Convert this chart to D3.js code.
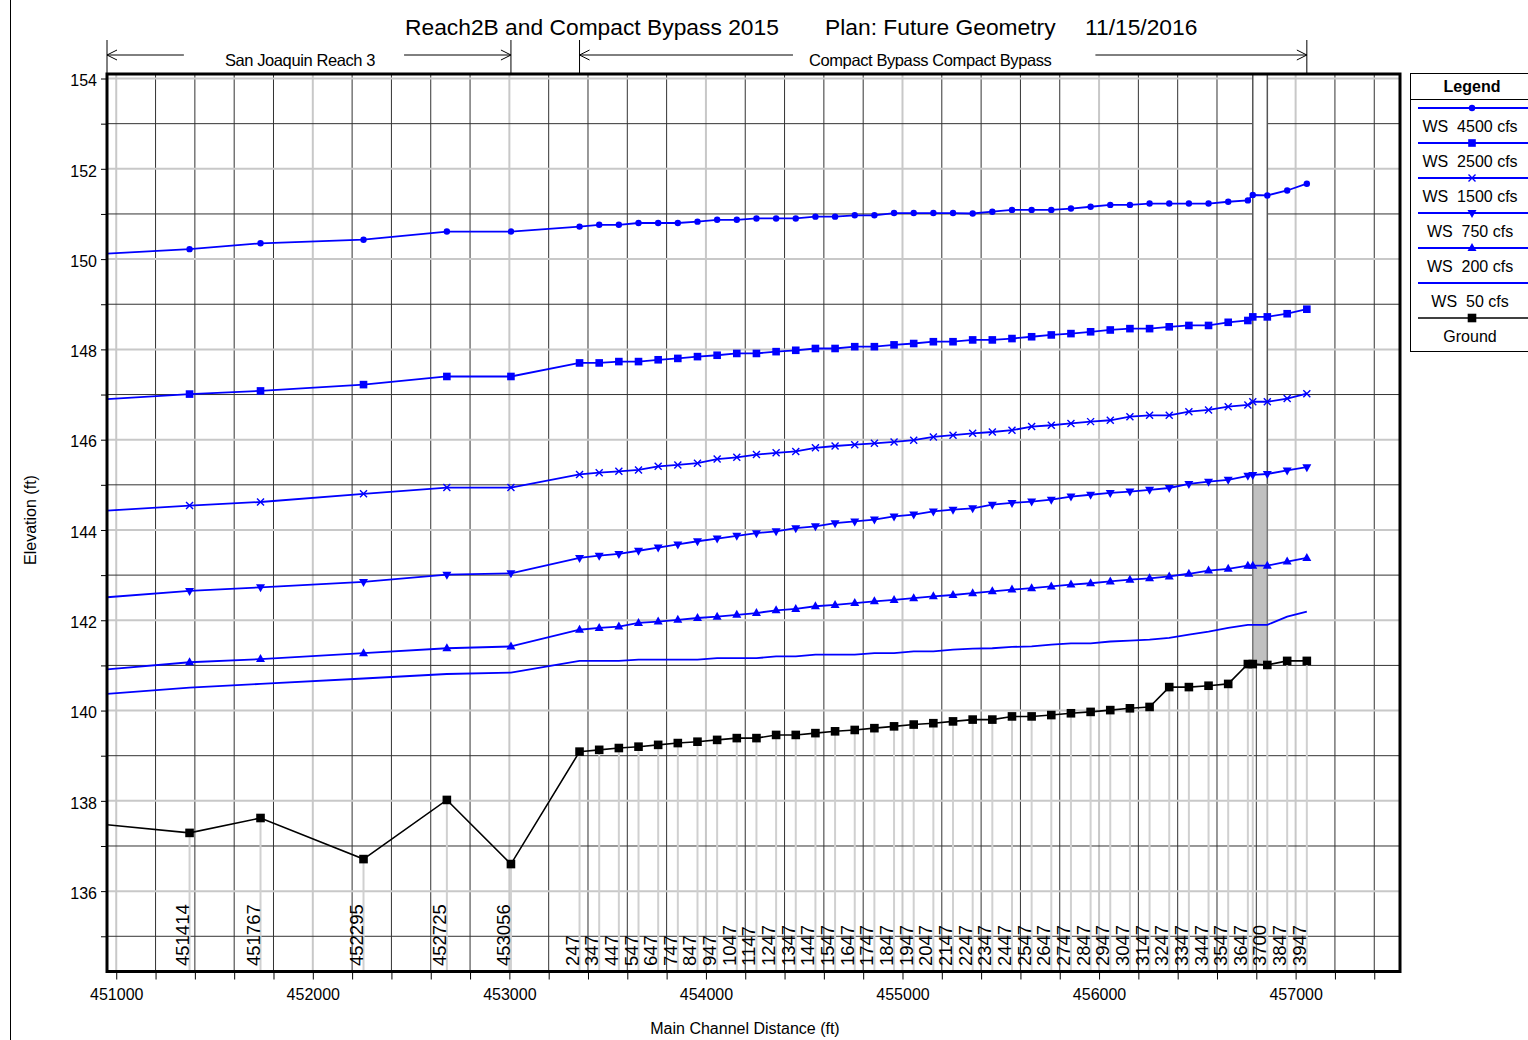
<!DOCTYPE html>
<html>
<head>
<meta charset="utf-8">
<script src="https://cdn.jsdelivr.net/npm/d3@7"></script>
<style>
  body { margin: 0; background: #fff; }
  svg text { font-family: "Liberation Sans", Arial, sans-serif; fill: #000; }
</style>
</head>
<body>
<div id="chart"></div>
<script>
// ---- data ----
// river station names (first entry = where the profile enters the plot, BU has no label)
const stationLabels = ['', '451414', '451767', '452295', '452725', '453056',
  '247', '347', '447', '547', '647', '747', '847', '947', '1047', '1147', '1247', '1347',
  '1447', '1547', '1647', '1747', '1847', '1947', '2047', '2147', '2247', '2347', '2447',
  '2547', '2647', '2747', '2847', '2947', '3047', '3147', '3247', '3347', '3447', '3547',
  '3647', '', '3700', '3847', '3947'];

// main channel distance (ft)
const distance = [450953, 451373, 451734, 452258, 452682, 453008,
  453357, 453457, 453557, 453657, 453757, 453857, 453957, 454057, 454157, 454257, 454357,
  454457, 454557, 454657, 454757, 454857, 454957, 455057, 455157, 455257, 455357, 455457,
  455557, 455657, 455757, 455857, 455957, 456057, 456157, 456257, 456357, 456457, 456557,
  456657, 456757, 456782, 456856, 456957, 457057];

const ws4500 = [150.12, 150.22, 150.35, 150.43, 150.61, 150.61,
  150.72, 150.76, 150.76, 150.80, 150.80, 150.80, 150.83, 150.87, 150.87, 150.90, 150.90,
  150.90, 150.94, 150.94, 150.97, 150.97, 151.02, 151.02, 151.02, 151.02, 151.01, 151.05,
  151.09, 151.09, 151.09, 151.12, 151.16, 151.20, 151.20, 151.23, 151.23, 151.23, 151.23,
  151.27, 151.30, 151.42, 151.41, 151.52, 151.67];

const ws2500 = [146.90, 147.01, 147.08, 147.22, 147.40, 147.40,
  147.70, 147.70, 147.73, 147.73, 147.77, 147.80, 147.84, 147.87, 147.91, 147.91, 147.95,
  147.98, 148.02, 148.02, 148.06, 148.06, 148.10, 148.13, 148.17, 148.17, 148.21, 148.21,
  148.24, 148.28, 148.32, 148.35, 148.39, 148.43, 148.46, 148.46, 148.50, 148.53, 148.53,
  148.60, 148.64, 148.72, 148.72, 148.79, 148.89];

const ws1500 = [144.43, 144.54, 144.62, 144.80, 144.94, 144.94,
  145.23, 145.27, 145.30, 145.33, 145.41, 145.44, 145.48, 145.57, 145.61, 145.67, 145.71,
  145.74, 145.82, 145.86, 145.89, 145.92, 145.95, 145.99, 146.06, 146.10, 146.14, 146.17,
  146.21, 146.29, 146.32, 146.36, 146.40, 146.43, 146.51, 146.54, 146.54, 146.62, 146.66,
  146.73, 146.77, 146.84, 146.84, 146.91, 147.02];

const ws750 = [142.51, 142.65, 142.73, 142.85, 143.01, 143.04,
  143.38, 143.43, 143.47, 143.54, 143.61, 143.68, 143.75, 143.81, 143.87, 143.93, 143.97,
  144.04, 144.08, 144.15, 144.19, 144.23, 144.30, 144.34, 144.41, 144.45, 144.48, 144.56,
  144.60, 144.63, 144.67, 144.74, 144.78, 144.82, 144.85, 144.89, 144.93, 145.02, 145.07,
  145.11, 145.20, 145.22, 145.24, 145.32, 145.39];

const ws200 = [140.91, 141.07, 141.14, 141.27, 141.38, 141.42,
  141.79, 141.83, 141.86, 141.94, 141.97, 142.01, 142.05, 142.08, 142.12, 142.16, 142.22,
  142.25, 142.31, 142.34, 142.38, 142.42, 142.45, 142.49, 142.53, 142.56, 142.60, 142.64,
  142.68, 142.71, 142.75, 142.79, 142.82, 142.86, 142.90, 142.93, 142.97, 143.03, 143.10,
  143.14, 143.21, 143.21, 143.21, 143.30, 143.38];

const ws50 = [140.37, 140.51, 140.59, 140.71, 140.81, 140.84,
  141.10, 141.10, 141.10, 141.13, 141.13, 141.13, 141.13, 141.16, 141.16, 141.16, 141.20,
  141.20, 141.24, 141.24, 141.24, 141.27, 141.27, 141.31, 141.31, 141.35, 141.37, 141.38,
  141.41, 141.42, 141.46, 141.49, 141.49, 141.53, 141.55, 141.57, 141.61, 141.68, 141.75,
  141.83, 141.90, 141.90, 141.90, 142.08, 142.19];

const ground = [137.47, 137.29, 137.62, 136.71, 138.02, 136.60,
  139.09, 139.13, 139.17, 139.20, 139.24, 139.28, 139.31, 139.35, 139.39, 139.39, 139.46,
  139.46, 139.50, 139.54, 139.57, 139.61, 139.65, 139.69, 139.72, 139.76, 139.80, 139.80,
  139.87, 139.87, 139.90, 139.94, 139.97, 140.01, 140.05, 140.08, 140.52, 140.52, 140.55,
  140.59, 141.03, 141.03, 141.01, 141.10, 141.10];

const seriesNames = ['WS  4500 cfs', 'WS  2500 cfs', 'WS  1500 cfs', 'WS  750 cfs',
  'WS  200 cfs', 'WS  50 cfs', 'Ground'];
const seriesMarkers = ['circle', 'square', 'x', 'down', 'up', null, 'bigsquare'];

// inline structure (index of upstream / downstream sections, top elevation)
const structureIdx = [41, 42];
const structureTop = 145.0;

// reach extents (station indexes)
const reaches = [
  { name: 'San Joaquin Reach 3', from: 0, to: 5 },
  { name: 'Compact Bypass Compact Bypass', from: 6, to: 44 }
];

const xTicks = d3.range(451000, 457531, 200);
const yTicks = d3.range(135, 154.1, 1);

// ---- chart ----
const width = 1528, height = 1040;
const plot = { left: 107, top: 74, right: 1400, bottom: 971.5 };

const svg = d3.select('#chart')
  .append('svg')
  .attr('width', width)
  .attr('height', height);

const x = d3.scaleLinear().domain([450953, 457531]).range([plot.left, plot.right]);
const y = d3.scaleLinear().domain([134.22, 154.10]).range([plot.bottom, plot.top]);

// outer frame line on the left
svg.append('line')
  .attr('x1', 10.5).attr('x2', 10.5).attr('y1', 0).attr('y2', height)
  .attr('stroke', '#000').attr('stroke-width', 1);

svg.append('clipPath').attr('id', 'clip')
  .append('rect')
  .attr('x', plot.left).attr('y', plot.top)
  .attr('width', plot.right - plot.left).attr('height', plot.bottom - plot.top);

// grid
const grid = svg.append('g');
grid.selectAll('.vg')
  .data(xTicks)
  .enter()
  .append('line')
  .attr('x1', d => x(d)).attr('x2', d => x(d))
  .attr('y1', plot.top).attr('y2', plot.bottom)
  .attr('stroke', d => d % 1000 === 0 ? '#c8c8c8' : '#333')
  .attr('stroke-width', d => d % 1000 === 0 ? 2 : 1);
grid.selectAll('.hg')
  .data(yTicks)
  .enter()
  .append('line')
  .attr('x1', plot.left).attr('x2', plot.right)
  .attr('y1', d => y(d)).attr('y2', d => y(d))
  .attr('stroke', d => d % 2 === 0 ? '#c8c8c8' : '#333')
  .attr('stroke-width', d => d % 2 === 0 ? 2 : 1);

// inline structure
const sL = x(distance[structureIdx[0]]), sR = x(distance[structureIdx[1]]);
svg.append('rect')
  .attr('x', sL).attr('y', plot.top)
  .attr('width', sR - sL).attr('height', y(structureTop) - plot.top)
  .attr('fill', '#fff').attr('stroke', '#555').attr('stroke-width', 1.5);
svg.append('path')
  .attr('d', d3.line()([
    [sL, y(structureTop)], [sR, y(structureTop)],
    [sR, y(ground[structureIdx[1]])], [sL, y(ground[structureIdx[0]])]
  ]) + 'Z')
  .attr('fill', '#c0c0c0').attr('stroke', '#777').attr('stroke-width', 1.5);

// station drop lines
svg.append('g').selectAll('line')
  .data(distance.slice(1).map((d, i) => ({ d, g: ground[i + 1] })))
  .enter()
  .append('line')
  .attr('x1', d => x(d.d)).attr('x2', d => x(d.d))
  .attr('y1', d => y(d.g)).attr('y2', plot.bottom)
  .attr('stroke', '#d0d0d0').attr('stroke-width', 2);

// station labels
svg.append('g').selectAll('text')
  .data(stationLabels.map((s, i) => ({ s, d: distance[i] })).filter(d => d.s !== ''))
  .enter()
  .append('text')
  .attr('transform', d => `translate(${x(d.d) - 1},966) rotate(-90)`)
  .attr('font-size', 18.5)
  .text(d => d.s);

// series
const allSeries = [ws4500, ws2500, ws1500, ws750, ws200, ws50, ground];
const line = d3.line()
  .x((d, i) => x(distance[i]))
  .y(d => y(d));

function drawMarker(g, type, color) {
  if (type === 'circle') {
    g.append('circle').attr('r', 3.2).attr('fill', color);
  } else if (type === 'square') {
    g.append('rect').attr('x', -3.8).attr('y', -3.8).attr('width', 7.6).attr('height', 7.6).attr('fill', color);
  } else if (type === 'bigsquare') {
    g.append('rect').attr('x', -4.3).attr('y', -4.3).attr('width', 8.6).attr('height', 8.6).attr('fill', color);
  } else if (type === 'x') {
    g.append('path').attr('d', 'M-3.5,-3.5L3.5,3.5M-3.5,3.5L3.5,-3.5')
      .attr('stroke', color).attr('stroke-width', 1.4).attr('fill', 'none');
  } else if (type === 'down') {
    g.append('path').attr('d', 'M-4.5,-3L4.5,-3L0,5Z').attr('fill', color);
  } else if (type === 'up') {
    g.append('path').attr('d', 'M-4.5,3L4.5,3L0,-5Z').attr('fill', color);
  }
}

const seriesG = svg.append('g').attr('clip-path', 'url(#clip)');
allSeries.forEach((vals, k) => {
  const color = k === 6 ? '#000' : '#0000ff';
  seriesG.append('path')
    .attr('d', line(vals))
    .attr('fill', 'none')
    .attr('stroke', color)
    .attr('stroke-width', k === 6 ? 1.6 : 1.8);
  if (seriesMarkers[k]) {
    vals.forEach((v, i) => {
      if (i === 0) return;
      const g = seriesG.append('g').attr('transform', `translate(${x(distance[i])},${y(v)})`);
      drawMarker(g, seriesMarkers[k], color);
    });
  }
});

// axes
const xAxis = d3.axisBottom(x)
  .tickValues(xTicks)
  .tickSize(8)
  .tickPadding(9)
  .tickFormat(d => d % 1000 === 0 ? d : '');
svg.append('g')
  .attr('transform', `translate(0,${plot.bottom})`)
  .call(xAxis)
  .call(g => g.select('.domain').remove())
  .call(g => g.selectAll('text').attr('font-size', 16).attr('font-family', '"Liberation Sans", Arial, sans-serif'));

const yAxis = d3.axisLeft(y)
  .tickValues(yTicks)
  .tickSize(6)
  .tickPadding(4)
  .tickFormat(d => d % 2 === 0 ? d : '');
svg.append('g')
  .attr('transform', `translate(${plot.left},0)`)
  .call(yAxis)
  .call(g => g.select('.domain').remove())
  .call(g => g.selectAll('text').attr('font-size', 16).attr('dy', '0.45em').attr('font-family', '"Liberation Sans", Arial, sans-serif'));

// plot border
svg.append('rect')
  .attr('x', plot.left).attr('y', plot.top)
  .attr('width', plot.right - plot.left).attr('height', plot.bottom - plot.top)
  .attr('fill', 'none').attr('stroke', '#000').attr('stroke-width', 3);

// axis titles
svg.append('text')
  .attr('x', 745).attr('y', 1034)
  .attr('text-anchor', 'middle').attr('font-size', 16)
  .text('Main Channel Distance (ft)');
svg.append('text')
  .attr('transform', 'translate(36,520) rotate(-90)')
  .attr('text-anchor', 'middle').attr('font-size', 16)
  .text('Elevation (ft)');

// title
const title = svg.append('g').attr('font-size', 22.8);
title.append('text').attr('x', 405).attr('y', 35).text('Reach2B and Compact Bypass 2015');
title.append('text').attr('x', 825).attr('y', 35).text('Plan: Future Geometry');
title.append('text').attr('x', 1085).attr('y', 35).text('11/15/2016');

// reach annotations
const annShift = [-9, -13];
const annGaps = [[41, 29], [16, 44]];
const ann = svg.append('g');
reaches.forEach((r, j) => {
  const a = r.from === 0 ? plot.left : x(distance[r.from]);
  const b = x(distance[r.to]);
  const mid = (a + b) / 2 + annShift[j];
  [a, b].forEach(px => {
    ann.append('line').attr('x1', px).attr('x2', px).attr('y1', 40).attr('y2', plot.top)
      .attr('stroke', '#000').attr('stroke-width', 1);
  });
  const t = ann.append('text')
    .attr('x', mid).attr('y', 66)
    .attr('text-anchor', 'middle').attr('font-size', 16.5)
    .attr('letter-spacing', -0.4)
    .text(r.name);
  const w = t.node().getComputedTextLength();
  ann.append('line').attr('x1', a).attr('x2', mid - w / 2 - annGaps[j][0]).attr('y1', 55).attr('y2', 55)
    .attr('stroke', '#000').attr('stroke-width', 1);
  ann.append('line').attr('x1', mid + w / 2 + annGaps[j][1]).attr('x2', b).attr('y1', 55).attr('y2', 55)
    .attr('stroke', '#000').attr('stroke-width', 1);
  ann.append('path').attr('d', `M${a + 10},50L${a},55L${a + 10},60`).attr('fill', 'none').attr('stroke', '#000');
  ann.append('path').attr('d', `M${b - 10},50L${b},55L${b - 10},60`).attr('fill', 'none').attr('stroke', '#000');
});

// legend
const legend = svg.append('g');
legend.append('rect')
  .attr('x', 1410.5).attr('y', 73.5).attr('width', 124).attr('height', 278)
  .attr('fill', '#fff').attr('stroke', '#000').attr('stroke-width', 1);
legend.append('text')
  .attr('x', 1472).attr('y', 92)
  .attr('text-anchor', 'middle').attr('font-size', 16).attr('font-weight', 'bold')
  .text('Legend');
legend.append('line')
  .attr('x1', 1410).attr('x2', 1528).attr('y1', 99.5).attr('y2', 99.5)
  .attr('stroke', '#000').attr('stroke-width', 1);
seriesNames.forEach((name, k) => {
  const ly = 108 + k * 35;
  const color = k === 6 ? '#000' : '#0000ff';
  legend.append('line')
    .attr('x1', 1418).attr('x2', 1528).attr('y1', ly).attr('y2', ly)
    .attr('stroke', color).attr('stroke-width', k === 6 ? 1.6 : 1.8);
  if (seriesMarkers[k]) {
    drawMarker(legend.append('g').attr('transform', `translate(1472,${ly})`), seriesMarkers[k], color);
  }
  legend.append('text')
    .attr('x', 1470).attr('y', ly + 24)
    .attr('text-anchor', 'middle').attr('font-size', 16)
    .style('white-space', 'pre')
    .text(name);
});
</script>
</body>
</html>
